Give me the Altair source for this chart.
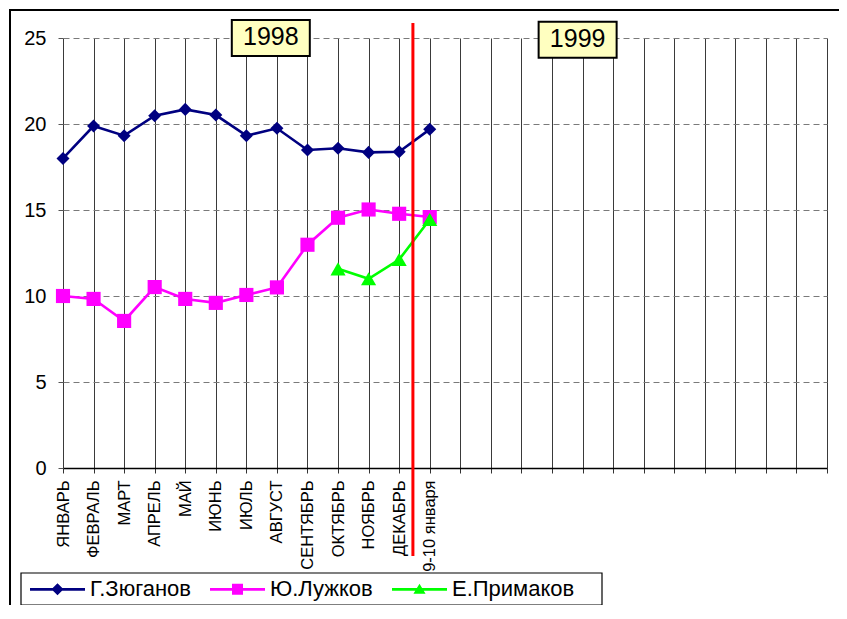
import altair as alt
import pandas as pd

# ---- data ----
months = ["ЯНВАРЬ", "ФЕВРАЛЬ", "МАРТ", "АПРЕЛЬ", "МАЙ", "ИЮНЬ", "ИЮЛЬ",
          "АВГУСТ", "СЕНТЯБРЬ", "ОКТЯБРЬ", "НОЯБРЬ", "ДЕКАБРЬ", "9-10 января"]
slot_count = 26  # category slots on the x axis (0..25)

zyuganov = [18.0, 19.88, 19.32, 20.48, 20.85, 20.52, 19.32, 19.75, 18.49, 18.59, 18.35, 18.39, 19.69]
luzhkov = [10.0, 9.83, 8.55, 10.52, 9.83, 9.6, 10.06, 10.5, 12.98, 14.55, 15.03, 14.78, 14.59]
primakov = [None, None, None, None, None, None, None, None, None, 11.58, 11.0, 12.12, 14.45]

series_names = ["Г.Зюганов", "Ю.Лужков", "Е.Примаков"]
series_colors = ["#000080", "#FF00FF", "#00FF00"]

year_labels = ["1998", "1999"]
year_x = [6.8, 16.84]
year_y = [25.0, 24.9]

separator_x = [11.45]

FONT = "Liberation Sans"

rows = []
for name, vals in zip(series_names, [zyuganov, luzhkov, primakov]):
    for i, v in enumerate(vals):
        if v is not None:
            rows.append({"idx": i, "value": v, "series": name})
df = pd.DataFrame(rows)

label_arr = "[" + ",".join("'" + m + "'" for m in months) + "]"

x_scale = alt.Scale(domain=[0, slot_count - 1], nice=False, zero=False)
y_scale = alt.Scale(domain=[0, 25], nice=False)

x_axis = alt.Axis(values=list(range(slot_count)), labelExpr=label_arr + "[datum.value] || ''",
                  labelAngle=270, labelAlign="right", labelBaseline="middle",
                  labelFont=FONT, labelFontSize=16.5, labelColor="black", labelPadding=7,
                  grid=True, gridColor="#3a3a3a", gridWidth=1,
                  domainColor="black", domainWidth=1.5, tickColor="#333", tickSize=5,
                  title=None, labelOverlap=False, labelBound=False, tickCount=slot_count)
y_axis = alt.Axis(values=[0, 5, 10, 15, 20, 25], grid=True, gridColor="#7a7a7a",
                  gridDash=[6, 4], gridWidth=1, domain=False, tickColor="#555", tickSize=5,
                  labelFont=FONT, labelFontSize=20, labelColor="black", labelPadding=12,
                  title=None)

X = alt.X("idx:Q", scale=x_scale, axis=x_axis)
Y = alt.Y("value:Q", scale=y_scale, axis=y_axis)

base = alt.Chart(df)

layers = []
shapes = ["diamond", "square", "triangle-up"]
sizes = [170, 200, 230]
for name, col in zip(series_names, series_colors):
    sub = base.transform_filter(alt.datum.series == name)
    layers.append(sub.mark_line(color=col, strokeWidth=2.6).encode(x=X, y=Y))
for name, col, shp, sz in zip(series_names, series_colors, shapes, sizes):
    sub = base.transform_filter(alt.datum.series == name)
    layers.append(sub.mark_point(shape=shp, size=sz, filled=True, color=col, opacity=1).encode(x=X, y=Y))

# red separator between 1998 and 1999
sep = alt.Chart(pd.DataFrame({"idx": separator_x})).mark_rule(color="#FF0000", strokeWidth=3).encode(
    x=X, y=alt.value(-15), y2=alt.value(518))
layers.append(sep)

# year boxes
ydf = pd.DataFrame({"label": year_labels, "idx": year_x, "value": year_y})
box_path = "M-1,-0.46L1,-0.46L1,0.46L-1,0.46Z"
boxes = alt.Chart(ydf).mark_point(shape=box_path, size=6084, filled=True, fill="#FFFFC0",
                                  stroke="black", strokeWidth=2, opacity=1).encode(x=X, y=Y)
texts = alt.Chart(ydf).mark_text(font=FONT, fontSize=25, color="black", align="center",
                                 baseline="middle", dy=-1).encode(x=X, y=Y, text="label:N")
layers += [boxes, texts]

# legend frame and outer chart frame (decoration)
legend_frame = alt.Chart(pd.DataFrame({"a": [0]})).mark_rect(
    fill="white", stroke="black", strokeWidth=1.2).encode(
    x=alt.value(-42), x2=alt.value(539), y=alt.value(535), y2=alt.value(567))
frame_top = alt.Chart(pd.DataFrame({"a": [0]})).mark_rule(color="black", strokeWidth=2).encode(
    x=alt.value(-54), x2=alt.value(790), y=alt.value(-28))
frame_left = alt.Chart(pd.DataFrame({"a": [0]})).mark_rule(color="black", strokeWidth=2).encode(
    x=alt.value(-53), y=alt.value(-29), y2=alt.value(570))
layers += [legend_frame, frame_top, frame_left]

# legend layer (invisible marks, custom line+marker legend symbols)
r = 0.05
leg_paths = [
    f"M-1,-{r}L1,-{r}L1,{r}L-1,{r}ZM0,-0.22L0.22,0L0,0.22L-0.22,0Z",
    f"M-1,-{r}L1,-{r}L1,{r}L-1,{r}ZM-0.2,-0.2L0.2,-0.2L0.2,0.2L-0.2,0.2Z",
    f"M-1,-{r}L1,-{r}L1,{r}L-1,{r}ZM0,-0.2L0.22,0.16L-0.22,0.16Z",
]
legend = alt.Legend(orient="none", legendX=-33, legendY=523.5, direction="horizontal",
                    title=None, padding=0, symbolSize=3025, symbolOpacity=1,
                    symbolStrokeWidth=0, labelFont=FONT, labelFontSize=22,
                    labelColor="black", labelOffset=5, columnPadding=19, labelLimit=300)
leg_layer = alt.Chart(pd.DataFrame({"series": series_names})).mark_point(
    filled=True, opacity=0).encode(
    color=alt.Color("series:N", scale=alt.Scale(domain=series_names, range=series_colors),
                    legend=legend, sort=series_names),
    shape=alt.Shape("series:N", scale=alt.Scale(domain=series_names, range=leg_paths),
                    legend=legend, sort=series_names),
)
layers.append(leg_layer)

chart = alt.layer(*layers).properties(
    width=764, height=430,
    autosize=alt.AutoSizeParams(type="none"),
    padding={"left": 55, "top": 30, "right": 12, "bottom": 137},
    background="white",
).configure_view(stroke=None)

chart.save("out.html", embed_options={"renderer": "svg", "actions": False})
